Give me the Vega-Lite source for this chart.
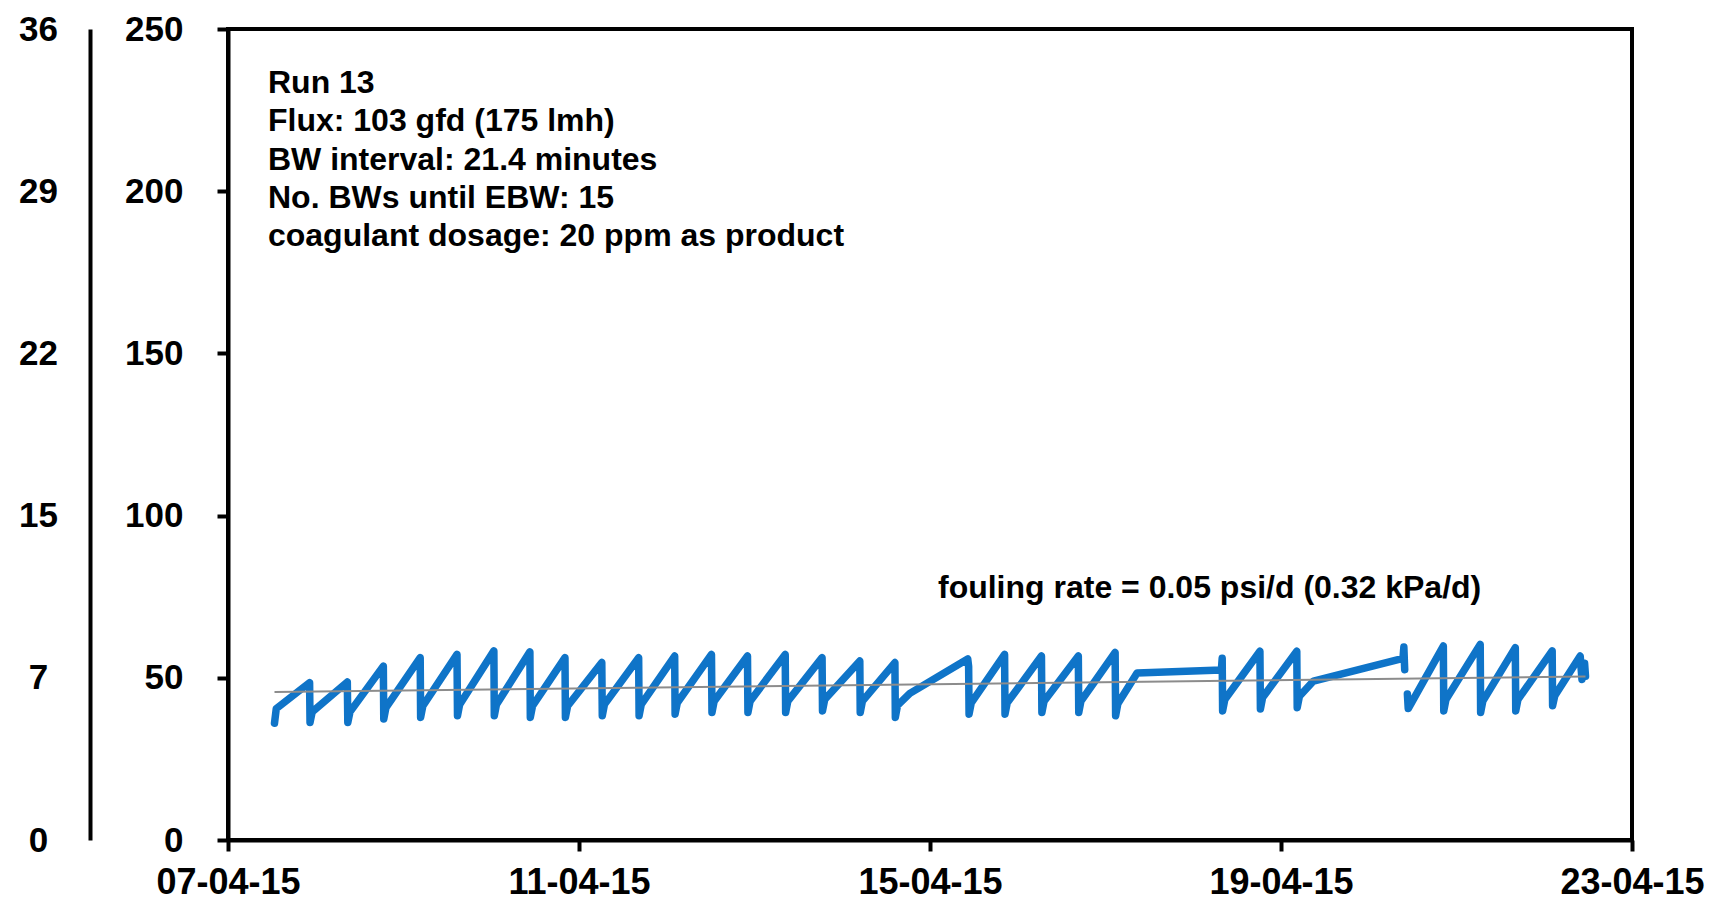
{
  "$schema": "https://vega.github.io/schema/vega-lite/v6.json",
  "autosize": {"type": "none"},
  "padding": {"left": 228, "top": 29, "right": 77, "bottom": 60},
  "width": 1404,
  "height": 811,
  "background": "white",
  "config": {
    "view": {"stroke": "black", "strokeWidth": 4},
    "axis": {
      "labelFont": "Liberation Sans",
      "labelFontWeight": "bold",
      "labelColor": "black",
      "domainColor": "black",
      "tickColor": "black",
      "grid": false,
      "title": null
    },
    "text": {"font": "Liberation Sans"}
  },
  "layer": [
    {
      "data": {"values": [
        {"time":"2015-04-07T12:43","kPa":36.0,"seg":1},
        {"time":"2015-04-07T13:12","kPa":40.5,"seg":1},
        {"time":"2015-04-07T22:19","kPa":48.5,"seg":1},
        {"time":"2015-04-07T22:26","kPa":36.2,"seg":1},
        {"time":"2015-04-07T23:02","kPa":39.5,"seg":1},
        {"time":"2015-04-08T08:38","kPa":48.7,"seg":1},
        {"time":"2015-04-08T08:46","kPa":36.2,"seg":1},
        {"time":"2015-04-08T09:22","kPa":39.5,"seg":1},
        {"time":"2015-04-08T18:29","kPa":53.6,"seg":1},
        {"time":"2015-04-08T18:36","kPa":37.3,"seg":1},
        {"time":"2015-04-08T19:12","kPa":40.8,"seg":1},
        {"time":"2015-04-09T04:34","kPa":56.2,"seg":1},
        {"time":"2015-04-09T04:41","kPa":37.8,"seg":1},
        {"time":"2015-04-09T05:17","kPa":41.3,"seg":1},
        {"time":"2015-04-09T14:38","kPa":57.2,"seg":1},
        {"time":"2015-04-09T14:46","kPa":38.3,"seg":1},
        {"time":"2015-04-09T15:22","kPa":41.8,"seg":1},
        {"time":"2015-04-10T00:43","kPa":58.3,"seg":1},
        {"time":"2015-04-10T00:50","kPa":38.3,"seg":1},
        {"time":"2015-04-10T01:26","kPa":41.8,"seg":1},
        {"time":"2015-04-10T10:34","kPa":58.0,"seg":1},
        {"time":"2015-04-10T10:41","kPa":37.8,"seg":1},
        {"time":"2015-04-10T11:17","kPa":41.3,"seg":1},
        {"time":"2015-04-10T20:10","kPa":56.2,"seg":1},
        {"time":"2015-04-10T20:17","kPa":37.8,"seg":1},
        {"time":"2015-04-10T20:53","kPa":41.3,"seg":1},
        {"time":"2015-04-11T06:14","kPa":54.7,"seg":1},
        {"time":"2015-04-11T06:22","kPa":38.3,"seg":1},
        {"time":"2015-04-11T06:58","kPa":41.8,"seg":1},
        {"time":"2015-04-11T16:19","kPa":56.2,"seg":1},
        {"time":"2015-04-11T16:26","kPa":38.3,"seg":1},
        {"time":"2015-04-11T17:02","kPa":41.8,"seg":1},
        {"time":"2015-04-12T02:10","kPa":56.7,"seg":1},
        {"time":"2015-04-12T02:17","kPa":38.8,"seg":1},
        {"time":"2015-04-12T02:53","kPa":42.3,"seg":1},
        {"time":"2015-04-12T12:14","kPa":57.2,"seg":1},
        {"time":"2015-04-12T12:22","kPa":39.3,"seg":1},
        {"time":"2015-04-12T12:58","kPa":42.8,"seg":1},
        {"time":"2015-04-12T22:05","kPa":56.7,"seg":1},
        {"time":"2015-04-12T22:12","kPa":39.3,"seg":1},
        {"time":"2015-04-12T22:48","kPa":42.8,"seg":1},
        {"time":"2015-04-13T08:24","kPa":57.2,"seg":1},
        {"time":"2015-04-13T08:31","kPa":39.3,"seg":1},
        {"time":"2015-04-13T09:07","kPa":42.8,"seg":1},
        {"time":"2015-04-13T18:29","kPa":56.2,"seg":1},
        {"time":"2015-04-13T18:36","kPa":39.8,"seg":1},
        {"time":"2015-04-13T19:12","kPa":43.3,"seg":1},
        {"time":"2015-04-14T04:48","kPa":55.2,"seg":1},
        {"time":"2015-04-14T04:55","kPa":39.3,"seg":1},
        {"time":"2015-04-14T05:31","kPa":42.8,"seg":1},
        {"time":"2015-04-14T14:24","kPa":54.7,"seg":1},
        {"time":"2015-04-14T14:31","kPa":37.8,"seg":1},
        {"time":"2015-04-14T15:07","kPa":41.5,"seg":1},
        {"time":"2015-04-14T18:29","kPa":45.2,"seg":1},
        {"time":"2015-04-15T10:19","kPa":55.8,"seg":1},
        {"time":"2015-04-15T10:34","kPa":53.5,"seg":1},
        {"time":"2015-04-15T10:41","kPa":38.8,"seg":1},
        {"time":"2015-04-15T11:17","kPa":42.3,"seg":1},
        {"time":"2015-04-15T20:24","kPa":57.2,"seg":1},
        {"time":"2015-04-15T20:31","kPa":38.8,"seg":1},
        {"time":"2015-04-15T21:07","kPa":42.3,"seg":1},
        {"time":"2015-04-16T06:29","kPa":56.7,"seg":1},
        {"time":"2015-04-16T06:36","kPa":39.3,"seg":1},
        {"time":"2015-04-16T07:12","kPa":42.8,"seg":1},
        {"time":"2015-04-16T16:34","kPa":56.7,"seg":1},
        {"time":"2015-04-16T16:41","kPa":39.3,"seg":1},
        {"time":"2015-04-16T17:17","kPa":42.8,"seg":1},
        {"time":"2015-04-17T02:38","kPa":57.8,"seg":1},
        {"time":"2015-04-17T02:46","kPa":38.3,"seg":1},
        {"time":"2015-04-17T03:22","kPa":42.0,"seg":1},
        {"time":"2015-04-17T08:38","kPa":51.5,"seg":1},
        {"time":"2015-04-18T07:41","kPa":52.4,"seg":1},
        {"time":"2015-04-18T07:55","kPa":56.0,"seg":1},
        {"time":"2015-04-18T08:02","kPa":39.8,"seg":1},
        {"time":"2015-04-18T08:38","kPa":43.3,"seg":1},
        {"time":"2015-04-18T18:14","kPa":58.2,"seg":1},
        {"time":"2015-04-18T18:22","kPa":40.4,"seg":1},
        {"time":"2015-04-18T18:58","kPa":43.9,"seg":1},
        {"time":"2015-04-19T04:19","kPa":58.2,"seg":1},
        {"time":"2015-04-19T04:26","kPa":40.8,"seg":1},
        {"time":"2015-04-19T05:02","kPa":44.3,"seg":1},
        {"time":"2015-04-19T08:53","kPa":49.0,"seg":1},
        {"time":"2015-04-20T09:22","kPa":56.0,"seg":1},
        {"time":"2015-04-20T09:36","kPa":59.5,"seg":1},
        {"time":"2015-04-20T09:50","kPa":52.5,"seg":1},
        {"time":"2015-04-20T10:34","kPa":45.0,"seg":2},
        {"time":"2015-04-20T10:48","kPa":40.5,"seg":2},
        {"time":"2015-04-20T20:24","kPa":59.8,"seg":2},
        {"time":"2015-04-20T20:31","kPa":39.8,"seg":2},
        {"time":"2015-04-20T21:07","kPa":43.3,"seg":2},
        {"time":"2015-04-21T06:29","kPa":60.3,"seg":2},
        {"time":"2015-04-21T06:36","kPa":39.3,"seg":2},
        {"time":"2015-04-21T07:12","kPa":42.8,"seg":2},
        {"time":"2015-04-21T16:05","kPa":59.3,"seg":2},
        {"time":"2015-04-21T16:12","kPa":39.8,"seg":2},
        {"time":"2015-04-21T16:48","kPa":43.3,"seg":2},
        {"time":"2015-04-22T02:10","kPa":58.3,"seg":2},
        {"time":"2015-04-22T02:17","kPa":41.4,"seg":2},
        {"time":"2015-04-22T02:53","kPa":44.5,"seg":2},
        {"time":"2015-04-22T09:50","kPa":56.7,"seg":2},
        {"time":"2015-04-22T10:19","kPa":49.5,"seg":2},
        {"time":"2015-04-22T11:02","kPa":54.5,"seg":2},
        {"time":"2015-04-22T11:17","kPa":50.5,"seg":2}
      ]},
      "mark": {"type": "line", "color": "#0f74c8", "strokeWidth": 7.5, "strokeJoin": "round", "strokeCap": "round"},
      "encoding": {
        "x": {
          "field": "time", "type": "temporal",
          "scale": {"domain": [{"year": 2015, "month": 4, "date": 7}, {"year": 2015, "month": 4, "date": 23}]},
          "axis": {
            "values": [
              {"year": 2015, "month": 4, "date": 7},
              {"year": 2015, "month": 4, "date": 11},
              {"year": 2015, "month": 4, "date": 15},
              {"year": 2015, "month": 4, "date": 19},
              {"year": 2015, "month": 4, "date": 23}
            ],
            "format": "%d-%m-%y",
            "labelFontSize": 36,
            "labelPadding": 14,
            "tickSize": 11,
            "tickWidth": 4,
            "domainWidth": 4,
            "labelFlush": false,
            "labelOverlap": false
          }
        },
        "y": {
          "field": "kPa", "type": "quantitative",
          "scale": {"domain": [0, 250]},
          "axis": {
            "orient": "left",
            "values": [0, 50, 100, 150, 200, 250],
            "labelFontSize": 35,
            "labelPadding": 34,
            "tickSize": 11,
            "tickWidth": 4,
            "domainWidth": 4
          }
        },
        "detail": {"field": "seg", "type": "nominal"}
      }
    },
    {
      "data": {"values": [
        {"time": "2015-04-07T12:43", "kPa": 45.6},
        {"time": "2015-04-22T11:17", "kPa": 50.4}
      ]},
      "mark": {"type": "line", "color": "#8c8c8c", "strokeWidth": 2},
      "encoding": {
        "x": {
          "field": "time", "type": "temporal",
          "scale": {"domain": [{"year": 2015, "month": 4, "date": 7}, {"year": 2015, "month": 4, "date": 23}]}
        },
        "y": {
          "field": "kPa", "type": "quantitative",
          "scale": {"domain": [0, 250]},
          "axis": {
            "orient": "left",
            "offset": 138,
            "values": [0, 50, 100, 150, 200, 250],
            "labelExpr": "format(datum.value * 0.1450377, '.0f')",
            "labelFontSize": 35,
            "labelAlign": "center",
            "labelPadding": 52,
            "ticks": false,
            "tickSize": 0,
            "domainWidth": 4
          }
        }
      }
    },
    {
      "data": {"values": [
        {"time": "2015-04-07T10:56", "v": 230.3, "label": "Run 13"},
        {"time": "2015-04-07T10:56", "v": 218.6, "label": "Flux: 103 gfd (175 lmh)"},
        {"time": "2015-04-07T10:56", "v": 206.5, "label": "BW interval: 21.4 minutes"},
        {"time": "2015-04-07T10:56", "v": 194.8, "label": "No. BWs until EBW: 15"},
        {"time": "2015-04-07T10:56", "v": 183.1, "label": "coagulant dosage: 20 ppm as product"},
        {"time": "2015-04-15T02:11", "v": 74.6, "label": "fouling rate = 0.05 psi/d (0.32 kPa/d)"}
      ]},
      "mark": {"type": "text", "align": "left", "baseline": "alphabetic", "fontSize": 32, "fontWeight": "bold", "color": "black"},
      "encoding": {
        "x": {
          "field": "time", "type": "temporal",
          "scale": {"domain": [{"year": 2015, "month": 4, "date": 7}, {"year": 2015, "month": 4, "date": 23}]}
        },
        "y": {"field": "v", "type": "quantitative", "scale": {"domain": [0, 250]}, "axis": null},
        "text": {"field": "label"}
      }
    }
  ],
  "resolve": {"scale": {"y": "independent"}, "axis": {"y": "independent"}}
}
